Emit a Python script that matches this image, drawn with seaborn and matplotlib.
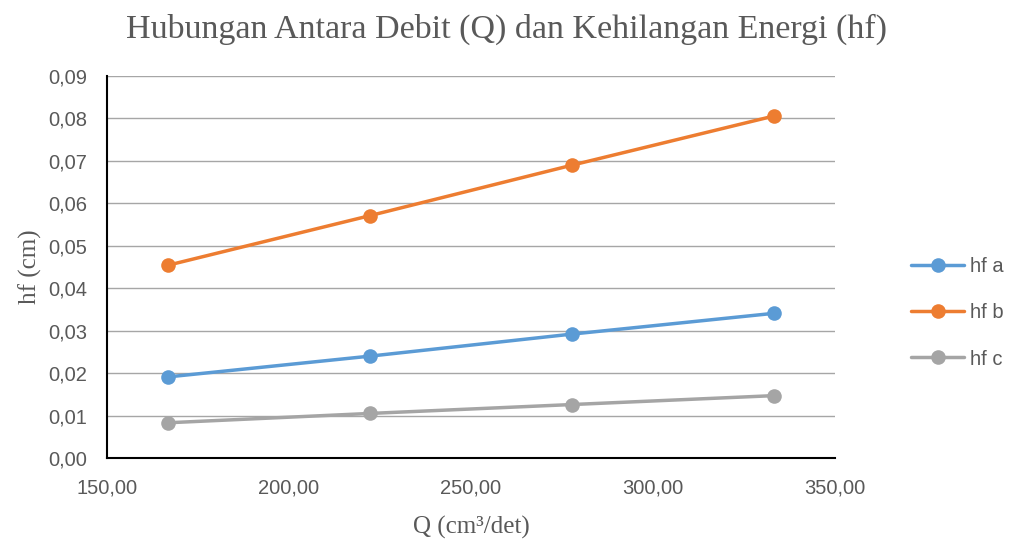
import pandas as pd
import matplotlib
matplotlib.use('Agg')
import matplotlib.pyplot as plt
import seaborn as sns
from matplotlib.ticker import FuncFormatter, MultipleLocator

# data
debit = [166.67, 222.22, 277.78, 333.33]
hf_a = [0.0191, 0.0240, 0.0292, 0.0341]
hf_b = [0.0454, 0.0571, 0.0690, 0.0806]
hf_c = [0.0083, 0.0105, 0.0126, 0.0147]
series_names = ['hf a', 'hf b', 'hf c']
colors = ['#5B9BD5', '#ED7D31', '#A5A5A5']

df = pd.DataFrame({
    'Q': debit * 3,
    'hf': hf_a + hf_b + hf_c,
    'seri': [s for s in series_names for _ in debit],
})

sns.set_style('white')
plt.rcParams['font.family'] = ['Liberation Sans', 'DejaVu Sans']

fig = plt.figure(figsize=(10.13, 5.41), dpi=100)
ax = fig.add_axes([0.1056, 0.1534, 0.8243 - 0.1056, 0.8595 - 0.1534])

sns.lineplot(data=df, x='Q', y='hf', hue='seri', palette=colors,
             marker='o', markersize=10.5, markeredgewidth=0,
             linewidth=2.5, ax=ax)

ax.set_xlim(150, 350)
ax.set_ylim(0, 0.09)
ax.xaxis.set_major_locator(MultipleLocator(50))
ax.yaxis.set_major_locator(MultipleLocator(0.01))
ax.xaxis.set_major_formatter(FuncFormatter(lambda v, p: f'{v:.2f}'.replace('.', ',')))
ax.yaxis.set_major_formatter(FuncFormatter(lambda v, p: f'{v:.2f}'.replace('.', ',')))
ax.tick_params(axis='both', length=0, labelsize=14.5, labelcolor='#595959')
ax.tick_params(axis='y', pad=14)
ax.tick_params(axis='x', pad=15)

ax.yaxis.grid(True, color='#A6A6A6', linewidth=1)
ax.set_axisbelow(True)
for side in ['top', 'right']:
    ax.spines[side].set_visible(False)
for side in ['left', 'bottom']:
    ax.spines[side].set_color('black')
    ax.spines[side].set_linewidth(1.5)

serif = ['Liberation Serif', 'DejaVu Serif']
ax.set_xlabel('Q (cm³/det)', family=serif, fontsize=18, color='#595959', labelpad=13)
ax.set_ylabel('hf (cm)', family=serif, fontsize=18, color='#595959', labelpad=5)
fig.suptitle('Hubungan Antara Debit (Q) dan Kehilangan Energi (hf)',
             family=serif, fontsize=24.5, color='#595959', y=0.975)

ax.legend(loc='center left', bbox_to_anchor=(1.08, 0.38), frameon=False,
          fontsize=14.5, labelcolor='#595959', handlelength=2.6,
          labelspacing=1.35, handletextpad=0.3, title=None)

plt.savefig('out.png', dpi=100)
